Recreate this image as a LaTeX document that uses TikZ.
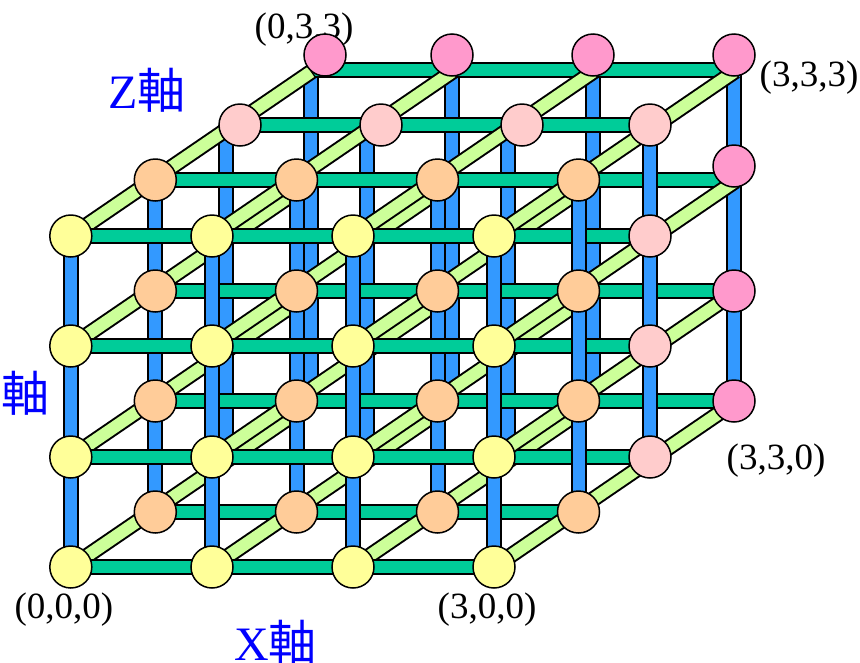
\documentclass[tikz,border=0pt]{standalone}
\usepackage{fontspec}
\setmainfont{Liberation Serif}
\newfontfamily\cjk{Noto Sans CJK JP}
\usetikzlibrary{calc}
\definecolor{cy}{HTML}{FFFF99}
\definecolor{co}{HTML}{FFCC99}
\definecolor{cp}{HTML}{FFCCCC}
\definecolor{cd}{HTML}{FF99CC}
\definecolor{cb}{HTML}{3399FF}
\definecolor{cg}{HTML}{00CC99}
\definecolor{cl}{HTML}{CCFF99}
\tikzset{
  bar/.style={line cap=butt,preaction={draw=black,line width=16pt},line width=12pt},
  bluebar/.style={bar,draw=cb},
  greenbar/.style={bar,draw=cg},
  diagbar/.style={bar,draw=cl},
  diagend/.style={line cap=butt,preaction={draw=black,line width=16pt,shorten >=-1.5pt},line width=12pt,draw=cl},
  ball/.style={circle,draw=black,line width=1.5pt,minimum size=42pt,inner sep=0pt},
  coordlabel/.style={font=\fontsize{37}{40}\selectfont,inner sep=0pt},
  axislabel/.style={font=\fontsize{48}{50}\selectfont,text=blue,inner sep=0pt}
}
\begin{document}
\begin{tikzpicture}[x=1pt,y=-1pt]
\useasboundingbox (0,0) rectangle (860,662);
\foreach \i/\xa/\xb/\xc/\xd in {0/70.8/155.3/226/311,1/212/296.5/367/452,2/353/437.5/508/593,3/494/578.5/650/734}{
  \foreach \k/\ya/\yb/\yc/\yd in {0/567/512/457/401,1/457/401/346/291,2/346/291/236/180,3/236/180/125/70}{
    \coordinate (a\i\k) at (\xa,\ya);
    \coordinate (b\i\k) at (\xb,\yb);
    \coordinate (c\i\k) at (\xc,\yc);
    \coordinate (d\i\k) at (\xd,\yd);
    \coordinate (e\i\k) at (\xa+240,\ya-164);
    \coordinate (f\i\k) at ($(a\i\k)!0.354!(e\i\k)$);
    \coordinate (g\i\k) at ($(a\i\k)!0.65!(e\i\k)$);
  }
}
\node[coordlabel] (l033) at (304,30) {(0,3,3)};
\node[coordlabel] (l333) at (809,78) {(3,3,3)};
\node[coordlabel] (l330) at (776,461) {(3,3,0)};
\node[coordlabel] (l000) at (64,610) {(0,0,0)};
\node[coordlabel] (l300) at (487,610) {(3,0,0)};
\node[axislabel,anchor=west] (zax) at (108,90) {Z{\cjk 軸}};
\node[axislabel,anchor=west] (yax) at (1,393) {\cjk 軸};
\node[axislabel,anchor=west] (xax) at (234,642) {X{\cjk 軸}};
% back layer
\foreach \i in {0,1,2,3} \draw[bluebar] (d\i0) -- (d\i3);
\foreach \k in {0,1,2,3} \draw[greenbar] (d0\k) -- (d3\k);
\foreach \i in {0,1,2,3} \foreach \k in {0,1,2,3} \draw[diagend] (g\i\k) -- (e\i\k);
% layer c
\foreach \i in {0,1,2,3} \draw[bluebar] (c\i0) -- (c\i3);
\foreach \k in {0,1,2,3} \draw[greenbar] (c0\k) -- (c3\k);
\foreach \i in {0,1,2,3} \foreach \k in {0,1,2,3} \draw[diagbar] (f\i\k) -- (g\i\k);
% layer b
\foreach \i in {0,1,2,3} \draw[bluebar] (b\i0) -- (b\i3);
\foreach \k in {0,1,2,3} \draw[greenbar] (b0\k) -- (b3\k);
\foreach \i in {0,1,2,3} \foreach \k in {0,1,2,3} \draw[diagbar] (a\i\k) -- (f\i\k);
% front layer
\foreach \i in {0,1,2,3} \draw[bluebar] (a\i0) -- (a\i3);
\foreach \k in {0,1,2,3} \draw[greenbar] (a0\k) -- (a3\k);
% balls
\foreach \n/\x in {0/325,1/452,2/593,3/734} \node[ball,fill=cd] (nd\n) at (\x,55) {};
\foreach \n/\y in {0/166,1/291,2/401} \node[ball,fill=cd] (ndr\n) at (734,\y) {};
\foreach \n/\x in {0/240,1/381,2/522,3/650} \node[ball,fill=cp] (np\n) at (\x,125) {};
\foreach \n/\y in {0/236,1/346,2/457} \node[ball,fill=cp] (npr\n) at (650,\y) {};
\foreach \i in {0,1,2,3} \foreach \k in {0,1,2,3} \node[ball,fill=co] (nb\i\k) at (b\i\k) {};
\foreach \i in {0,1,2,3} \foreach \k in {0,1,2,3} \node[ball,fill=cy] (na\i\k) at (a\i\k) {};
\end{tikzpicture}
\end{document}
